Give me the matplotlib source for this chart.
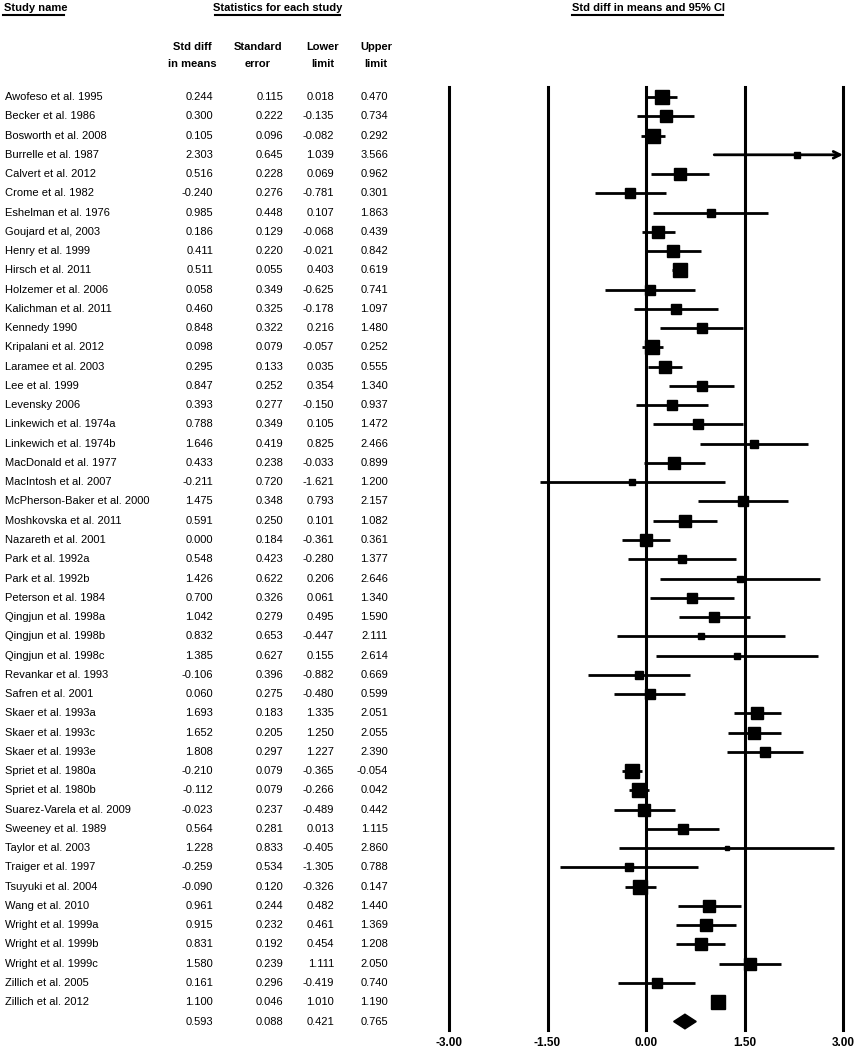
import numpy as np
import matplotlib.pyplot as plt
import matplotlib.transforms as mtransforms

plt.rcParams['font.family'] = ['Liberation Sans Narrow', 'Liberation Sans', 'DejaVu Sans']

studies = ["Awofeso et al. 1995", "Becker et al. 1986", "Bosworth et al. 2008", "Burrelle et al. 1987",
           "Calvert et al. 2012", "Crome et al. 1982", "Eshelman et al. 1976", "Goujard et al, 2003",
           "Henry et al. 1999", "Hirsch et al. 2011", "Holzemer et al. 2006", "Kalichman et al. 2011",
           "Kennedy 1990", "Kripalani et al. 2012", "Laramee et al. 2003", "Lee et al. 1999",
           "Levensky 2006", "Linkewich et al. 1974a", "Linkewich et al. 1974b", "MacDonald et al. 1977",
           "MacIntosh et al. 2007", "McPherson-Baker et al. 2000", "Moshkovska et al. 2011",
           "Nazareth et al. 2001", "Park et al. 1992a", "Park et al. 1992b", "Peterson et al. 1984",
           "Qingjun et al. 1998a", "Qingjun et al. 1998b", "Qingjun et al. 1998c", "Revankar et al. 1993",
           "Safren et al. 2001", "Skaer et al. 1993a", "Skaer et al. 1993c", "Skaer et al. 1993e",
           "Spriet et al. 1980a", "Spriet et al. 1980b", "Suarez-Varela et al. 2009", "Sweeney et al. 1989",
           "Taylor et al. 2003", "Traiger et al. 1997", "Tsuyuki et al. 2004", "Wang et al. 2010",
           "Wright et al. 1999a", "Wright et al. 1999b", "Wright et al. 1999c", "Zillich et al. 2005",
           "Zillich et al. 2012"]
smd = [0.244, 0.300, 0.105, 2.303, 0.516, -0.240, 0.985, 0.186, 0.411, 0.511, 0.058, 0.460,
       0.848, 0.098, 0.295, 0.847, 0.393, 0.788, 1.646, 0.433, -0.211, 1.475, 0.591, 0.000,
       0.548, 1.426, 0.700, 1.042, 0.832, 1.385, -0.106, 0.060, 1.693, 1.652, 1.808, -0.210,
       -0.112, -0.023, 0.564, 1.228, -0.259, -0.090, 0.961, 0.915, 0.831, 1.580, 0.161, 1.100]
se = [0.115, 0.222, 0.096, 0.645, 0.228, 0.276, 0.448, 0.129, 0.220, 0.055, 0.349, 0.325,
      0.322, 0.079, 0.133, 0.252, 0.277, 0.349, 0.419, 0.238, 0.720, 0.348, 0.250, 0.184,
      0.423, 0.622, 0.326, 0.279, 0.653, 0.627, 0.396, 0.275, 0.183, 0.205, 0.297, 0.079,
      0.079, 0.237, 0.281, 0.833, 0.534, 0.120, 0.244, 0.232, 0.192, 0.239, 0.296, 0.046]
lower = [0.018, -0.135, -0.082, 1.039, 0.069, -0.781, 0.107, -0.068, -0.021, 0.403, -0.625, -0.178,
         0.216, -0.057, 0.035, 0.354, -0.150, 0.105, 0.825, -0.033, -1.621, 0.793, 0.101, -0.361,
         -0.280, 0.206, 0.061, 0.495, -0.447, 0.155, -0.882, -0.480, 1.335, 1.250, 1.227, -0.365,
         -0.266, -0.489, 0.013, -0.405, -1.305, -0.326, 0.482, 0.461, 0.454, 1.111, -0.419, 1.010]
upper = [0.470, 0.734, 0.292, 3.566, 0.962, 0.301, 1.863, 0.439, 0.842, 0.619, 0.741, 1.097,
         1.480, 0.252, 0.555, 1.340, 0.937, 1.472, 2.466, 0.899, 1.200, 2.157, 1.082, 0.361,
         1.377, 2.646, 1.340, 1.590, 2.111, 2.614, 0.669, 0.599, 2.051, 2.055, 2.390, -0.054,
         0.042, 0.442, 1.115, 2.860, 0.788, 0.147, 1.440, 1.369, 1.208, 2.050, 0.740, 1.190]
summary = [0.593, 0.088, 0.421, 0.765]
xticks = [-3.0, -1.5, 0.0, 1.5, 3.0]

W, H = 855, 1050
fig = plt.figure(figsize=(8.55, 10.5), dpi=100)
ax = fig.add_axes([449 / W, 1 - 1030 / H, 394 / W, 943 / H])
ax.set_xlim(-3, 3)
ax.set_ylim(48.44, -0.52)
for s in ax.spines.values():
    s.set_visible(False)
ax.set_yticks([])
ax.set_xticks(xticks)
ax.set_xticklabels([f"{t:.2f}" for t in xticks], fontsize=8.5, fontweight='bold')
ax.tick_params(axis='x', length=0, pad=5)

for t in xticks:
    ax.axvline(t, color='black', lw=2.2, zorder=1, clip_on=False)

# square sizes from random-effects style weights
w = 1 / (np.array(se) ** 2 + 0.1)
side = 10.0 * np.sqrt(w / w.max())

for i in range(len(studies)):
    lo = max(lower[i], -3)
    hi = min(upper[i], 3)
    if upper[i] > 3:
        ax.annotate('', xy=(3, i), xytext=(lo, i),
                    arrowprops=dict(arrowstyle='->', lw=2, color='black', shrinkA=0, shrinkB=0,
                                    mutation_scale=12), annotation_clip=False)
    else:
        ax.plot([lo, hi], [i, i], color='black', lw=2, zorder=2, solid_capstyle='butt')
    ax.plot(smd[i], i, marker='s', ms=side[i], color='black', zorder=3, clip_on=False)

n = len(studies)
ax.fill([summary[2], summary[0], summary[3], summary[0]],
        [n, n - 0.38, n, n + 0.38], color='black', zorder=3, clip_on=False)

# text columns
tr = mtransforms.blended_transform_factory(fig.transFigure, ax.transData)
fs = 8
for i in range(n):
    ax.text(5 / W, i, studies[i], transform=tr, fontsize=fs, va='center', ha='left')
    for x, v in zip([213, 283, 334, 388], [smd[i], se[i], lower[i], upper[i]]):
        ax.text(x / W, i, f"{v:.3f}", transform=tr, fontsize=fs, va='center', ha='right')
for x, v in zip([213, 283, 334, 388], summary):
    ax.text(x / W, n, f"{v:.3f}", transform=tr, fontsize=fs, va='center', ha='right')

# headers
hdr = dict(fontsize=8, fontweight='bold', va='center')
def htext(x, y, s, ha):
    fig.text(x / W, 1 - y / H, s, ha=ha, **hdr)

htext(4, 8, "Study name", 'left')
htext(278, 8, "Statistics for each study", 'center')
htext(648, 8, "Std diff in means and 95% CI", 'center')
fig.add_artist(plt.Line2D([3 / W, 64 / W], [1 - 15 / H] * 2, color='black', lw=1.5))
fig.add_artist(plt.Line2D([215 / W, 340 / W], [1 - 15 / H] * 2, color='black', lw=1.5))
fig.add_artist(plt.Line2D([572 / W, 723 / W], [1 - 15 / H] * 2, color='black', lw=1.5))

for x, a, b in [(192, "Std diff", "in means"), (258, "Standard", "error"),
                (323, "Lower", "limit"), (376, "Upper", "limit")]:
    htext(x, 47, a, 'center')
    htext(x, 64, b, 'center')

fig.savefig("out.png", dpi=100)
